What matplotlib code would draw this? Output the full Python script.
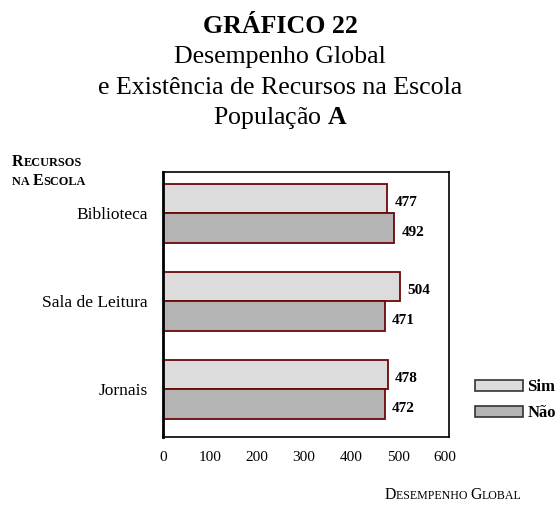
import matplotlib
matplotlib.use("Agg")
import matplotlib.pyplot as plt
from matplotlib.patches import Patch
import numpy as np

categories = ["Biblioteca", "Sala de Leitura", "Jornais"]
sim_values = [477, 504, 478]
nao_values = [492, 471, 472]
series_labels = ["Sim", "Não"]
x_ticks = [0, 100, 200, 300, 400, 500, 600]

plt.rcParams['font.family'] = ['Liberation Serif', 'DejaVu Serif']
plt.rcParams['mathtext.fontset'] = 'custom'
plt.rcParams['mathtext.rm'] = 'Liberation Serif'
plt.rcParams['mathtext.bf'] = 'Liberation Serif:bold'

W, H = 560, 511
fig = plt.figure(figsize=(W / 100, H / 100), dpi=100)
ax = fig.add_axes([163 / W, 1 - 437 / H, (449 - 163) / W, (437 - 172) / H])

n = len(categories)
y = np.arange(n)[::-1].astype(float)  # Biblioteca on top
h = 0.334
sim_c = "#dcdcdc"
nao_c = "#b4b4b4"
edge = "#6a0808"

ax.barh(y + h / 2, sim_values, height=h, color=sim_c, edgecolor=edge, linewidth=1.3)
ax.barh(y - h / 2, nao_values, height=h, color=nao_c, edgecolor=edge, linewidth=1.3)

for yi, v in zip(y, sim_values):
    ax.annotate(str(v), (v, yi + h / 2), xytext=(5, -3), textcoords="offset points",
                va="center", ha="left", fontsize=11, fontweight="bold")
for yi, v in zip(y, nao_values):
    ax.annotate(str(v), (v, yi - h / 2), xytext=(5, -3), textcoords="offset points",
                va="center", ha="left", fontsize=11, fontweight="bold")

ax.set_xlim(0, 608)
ax.set_ylim(-0.54, n - 1 + 0.47)
ax.set_xticks(x_ticks)
ax.set_xticklabels([str(t) for t in x_ticks], fontsize=11)
ax.set_yticks(y)
ax.set_yticklabels(categories, fontsize=12.5)
ax.tick_params(axis="both", length=0)
ax.tick_params(axis="x", pad=10)
ax.tick_params(axis="y", pad=11)
for s in ax.spines.values():
    s.set_linewidth(1.2)
    s.set_color("black")
ax.spines["left"].set_linewidth(2)

# Title
tfs = 18.6
fig.text(0.5, 1 - 33 / H, "GRÁFICO 22", ha="center", va="baseline", fontsize=tfs, fontweight="bold")
fig.text(0.5, 1 - 63 / H, "Desempenho Global", ha="center", va="baseline", fontsize=tfs)
fig.text(0.5, 1 - 94 / H, "e Existência de Recursos na Escola", ha="center", va="baseline", fontsize=tfs)
fig.text(0.5, 1 - 124 / H, "População $\\mathbf{A}$", ha="center", va="baseline", fontsize=tfs)

fig.canvas.draw()
renderer = fig.canvas.get_renderer()


def small_caps(x_px, y_px, parts, big, small, weight, ha="left"):
    """parts: list of (text, is_big). x_px,y_px baseline in pixel from top-left."""
    texts = []
    for txt, is_big in parts:
        t = fig.text(0, 1 - y_px / H, txt, fontsize=big if is_big else small,
                     fontweight=weight, va="baseline", ha="left")
        texts.append(t)
    widths = [t.get_window_extent(renderer).width for t in texts]
    total = sum(widths)
    x0 = x_px if ha == "left" else (x_px - total / 2 if ha == "center" else x_px - total)
    for t, w in zip(texts, widths):
        t.set_x(x0 / W)
        x0 += w


small_caps(12, 166, [("R", True), ("ECURSOS", False)], 11.5, 8.8, "bold")
small_caps(12, 185, [("NA ", False), ("E", True), ("SCOLA", False)], 11.5, 8.8, "bold")
small_caps(453, 499, [("D", True), ("ESEMPENHO ", False), ("G", True), ("LOBAL", False)], 11.3, 8.6, "normal",
           ha="center")

handles = [Patch(facecolor=sim_c, edgecolor="#333333", linewidth=1.2),
           Patch(facecolor=nao_c, edgecolor="#333333", linewidth=1.2)]
fig.legend(handles, series_labels, loc="center left", bbox_to_anchor=(475 / W, 1 - 400 / H),
           frameon=False, prop={"weight": "bold", "size": 12}, handlelength=2.9, handleheight=0.65,
           labelspacing=0.6, handletextpad=0.25, borderaxespad=0, borderpad=0)

fig.savefig("out.png", dpi=100)
